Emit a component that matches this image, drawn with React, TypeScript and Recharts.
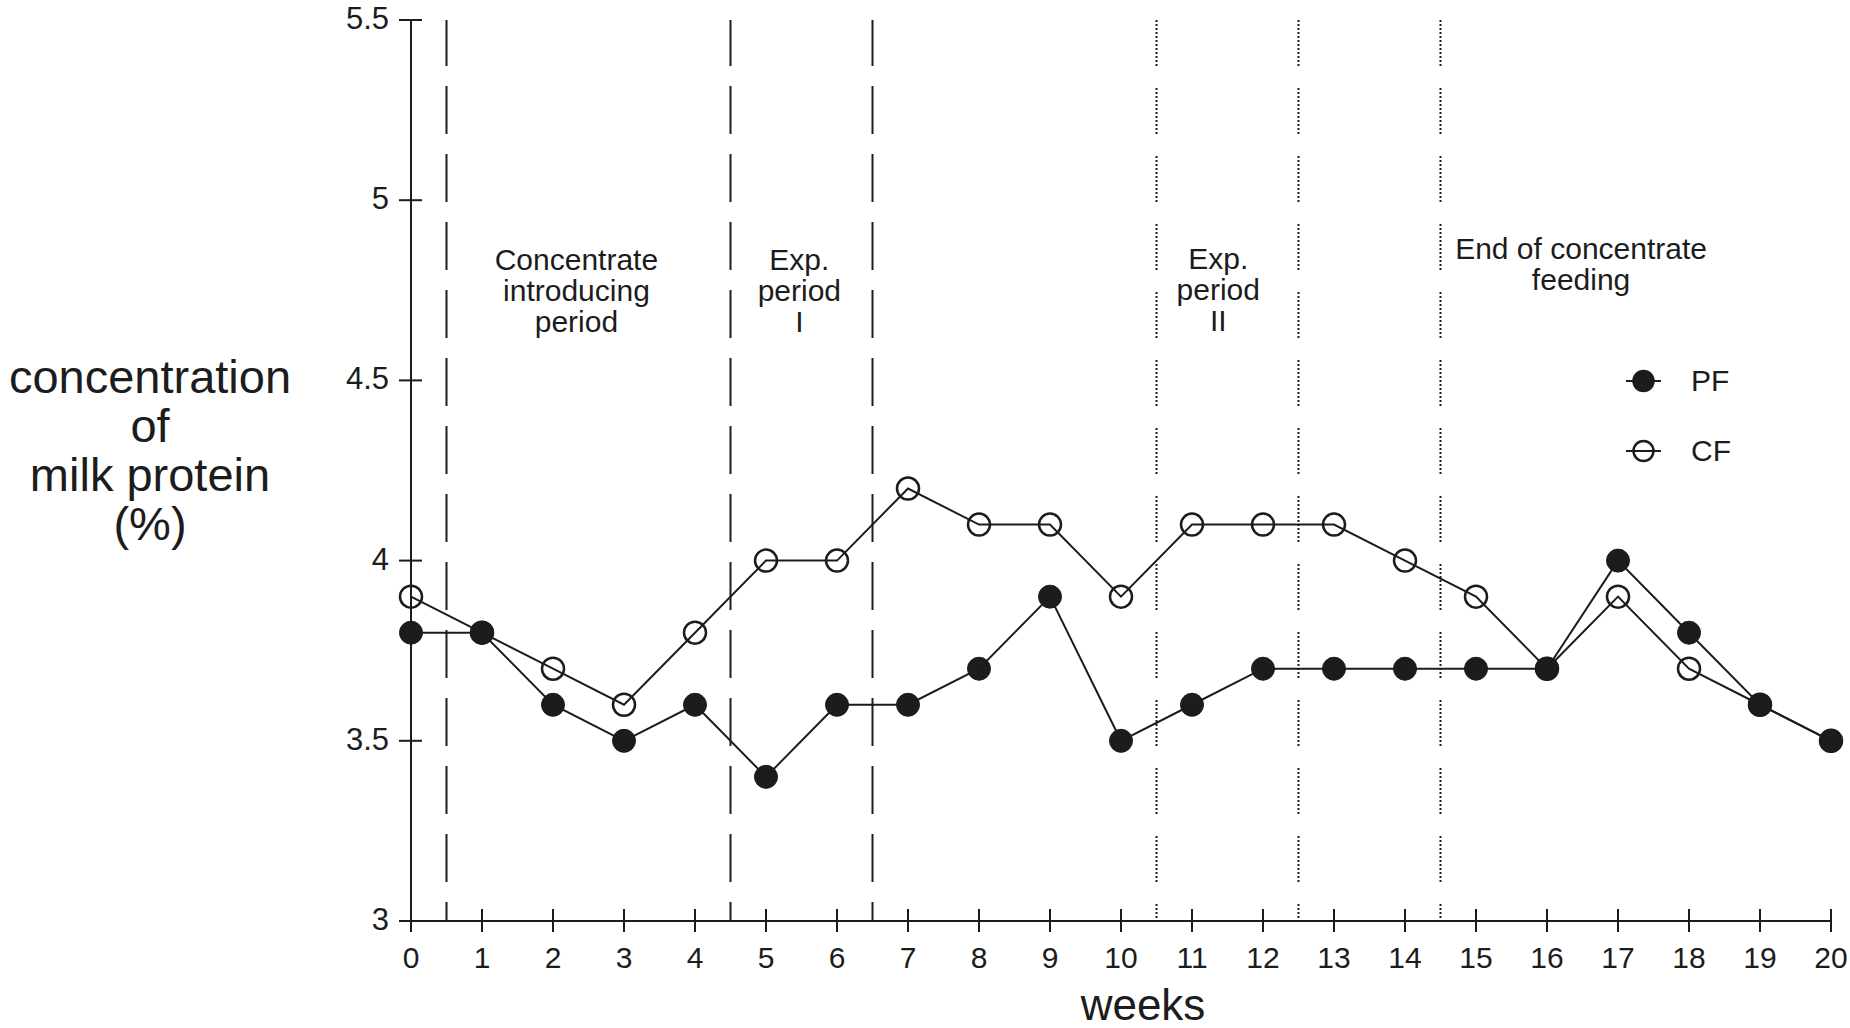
import { LineChart, Line, XAxis, YAxis, ReferenceLine, ReferenceDot, Legend } from 'recharts';

// weeks after calving
const weeks = [0, 1, 2, 3, 4, 5, 6, 7, 8, 9, 10, 11, 12, 13, 14, 15, 16, 17, 18, 19, 20];
// milk protein (%)
const pf = [3.8, 3.8, 3.6, 3.5, 3.6, 3.4, 3.6, 3.6, 3.7, 3.9, 3.5, 3.6, 3.7, 3.7, 3.7, 3.7, 3.7, 4.0, 3.8, 3.6, 3.5];
const cf = [3.9, 3.8, 3.7, 3.6, 3.8, 4.0, 4.0, 4.2, 4.1, 4.1, 3.9, 4.1, 4.1, 4.1, 4.0, 3.9, 3.7, 3.9, 3.7, 3.6, 3.5];

const yTicks = [3, 3.5, 4, 4.5, 5, 5.5];
const dashedBounds = [0.5, 4.5, 6.5];
const dottedBounds = [10.5, 12.5, 14.5];

const periodTexts = [
  ['Concentrate', 'introducing', 'period'],
  ['Exp.', 'period', 'I'],
  ['Exp.', 'period', 'II'],
  ['End of concentrate', 'feeding'],
];
const periodCenters = [2.33, 5.47, 11.37, 16.48];
const periodTops = [250, 250, 249, 239];

const FONT = '"Liberation Sans", Arial, Helvetica, sans-serif';
const INK = '#1c1c1c';

const data = weeks.map((w, i) => ({ week: w, PF: pf[i], CF: cf[i] }));

// dots grouped like dashes: 12 dots then a gap
const dottedDash = Array(11).fill('2 2').join(' ') + ' 2 22';

const XTick = ({ x, y, payload }: any) => (
  <g>
    <line x1={x} x2={x} y1={y - 12} y2={y + 11} stroke={INK} strokeWidth={2} />
    <text x={x} y={y + 47} textAnchor="middle" fontSize={30} fontFamily={FONT} fill={INK}>
      {payload.value}
    </text>
  </g>
);

const YTick = ({ x, y, payload }: any) => (
  <g>
    <line x1={x - 12} x2={x + 11} y1={y} y2={y} stroke={INK} strokeWidth={2} />
    <text x={x - 22} y={y + 9} textAnchor="end" fontSize={31} fontFamily={FONT} fill={INK}>
      {payload.value}
    </text>
  </g>
);

const YTitle = () => (
  <text textAnchor="middle" fontSize={47} fontFamily={FONT} fill={INK}>
    {['concentration', 'of', 'milk protein', '(%)'].map((t, i) => (
      <tspan key={t} x={150} y={393 + i * 49}>{t}</tspan>
    ))}
  </text>
);

const XTitle = () => (
  <text x={1143} y={1020} textAnchor="middle" fontSize={44} fontFamily={FONT} fill={INK}>
    weeks
  </text>
);

const periodLabel = (lines: string[], top: number) => (props: any) => {
  const vb = props.viewBox || {};
  return (
    <text textAnchor="middle" fontSize={30} fontFamily={FONT} fill={INK}>
      {lines.map((t, i) => (
        <tspan key={i} x={vb.x} y={vb.y + top + i * 31}>{t}</tspan>
      ))}
    </text>
  );
};

const LegendBox = () => (
  <div style={{ fontFamily: FONT, fontSize: 30, color: INK }}>
    {[
      { name: 'PF', fill: INK },
      { name: 'CF', fill: 'none' },
    ].map((s) => (
      <div key={s.name} style={{ display: 'flex', alignItems: 'center', height: 70 }}>
        <svg width={40} height={30}>
          <line x1={2} x2={37} y1={15} y2={15} stroke={INK} strokeWidth={2} />
          <circle cx={19.5} cy={15} r={10} fill={s.fill} stroke={INK} strokeWidth={2.5} />
        </svg>
        <span style={{ marginLeft: 27 }}>{s.name}</span>
      </div>
    ))}
  </div>
);

export default function App() {
  return (
    <div style={{ position: 'absolute', left: 0, top: 0, background: '#fff' }}>
      <LineChart width={1850} height={1028} data={data} margin={{ top: 20, right: 19, bottom: 0, left: 0 }}>
        <XAxis
          dataKey="week"
          type="number"
          domain={[0, 20]}
          ticks={weeks}
          interval={0}
          height={107}
          tickSize={0}
          tickMargin={0}
          tickLine={false}
          tick={<XTick />}
          axisLine={{ stroke: INK, strokeWidth: 2 }}
          label={{ content: <XTitle /> }}
        />
        <YAxis
          type="number"
          domain={[3, 5.5]}
          ticks={yTicks}
          interval={0}
          width={411}
          tickSize={0}
          tickMargin={0}
          tickLine={false}
          tick={<YTick />}
          axisLine={{ stroke: INK, strokeWidth: 2 }}
          label={{ content: <YTitle /> }}
        />
        {dashedBounds.map((b) => (
          <ReferenceLine key={b} x={b} stroke={INK} strokeWidth={2} strokeDasharray="48 20" strokeDashoffset={29} />
        ))}
        {dottedBounds.map((b) => (
          <ReferenceLine key={b} x={b} stroke={INK} strokeWidth={2} strokeDasharray={dottedDash} strokeDashoffset={29} />
        ))}
        {periodTexts.map((lines, i) => (
          <ReferenceDot
            key={i}
            x={periodCenters[i]}
            y={5.5}
            r={0}
            fill="none"
            stroke="none"
            label={{ content: periodLabel(lines, periodTops[i]) }}
          />
        ))}
        <Line
          dataKey="CF"
          stroke={INK}
          strokeWidth={2}
          isAnimationActive={false}
          dot={{ r: 11, fill: 'none', stroke: INK, strokeWidth: 2.5 }}
          activeDot={false}
        />
        <Line
          dataKey="PF"
          stroke={INK}
          strokeWidth={2}
          isAnimationActive={false}
          dot={{ r: 11.5, fill: INK, stroke: INK, strokeWidth: 1 }}
          activeDot={false}
        />
        <Legend
          layout="horizontal"
          verticalAlign="middle"
          align="center"
          content={<LegendBox />}
          wrapperStyle={{ left: 1624, top: 346, width: 'auto' }}
        />
      </LineChart>
    </div>
  );
}
